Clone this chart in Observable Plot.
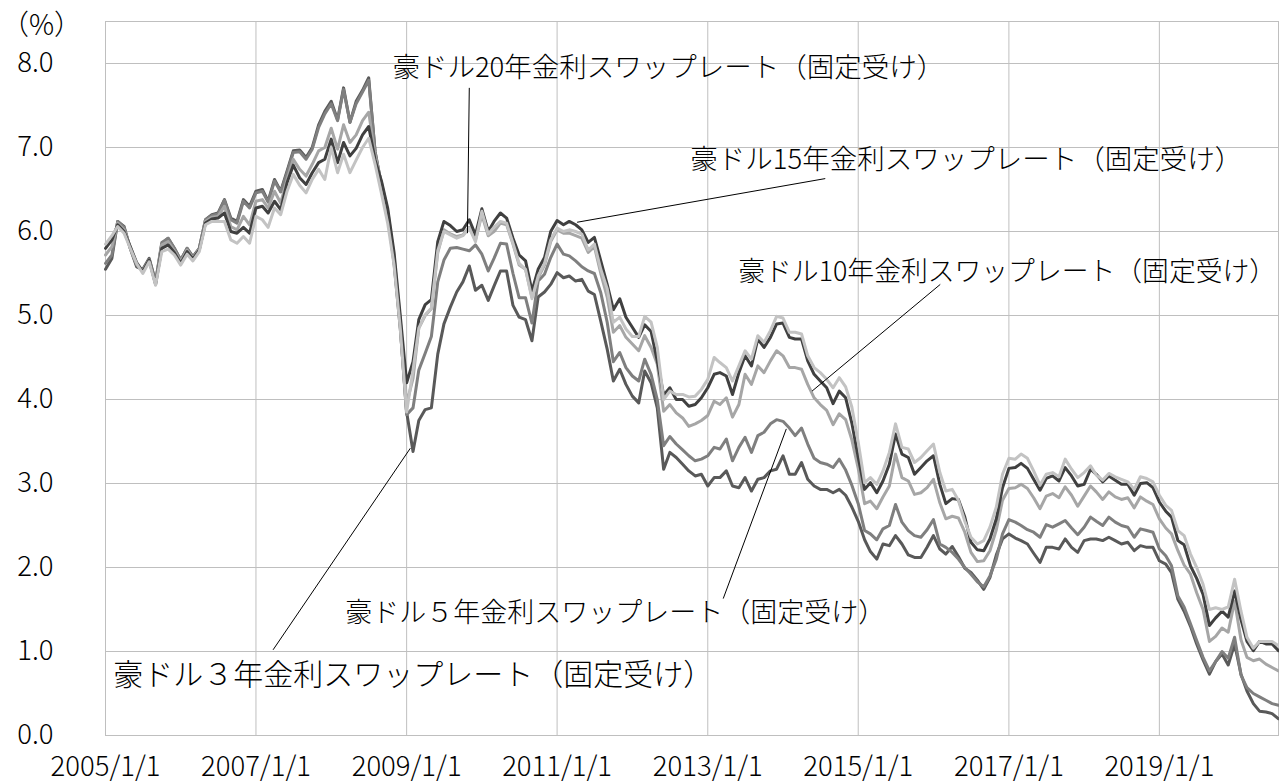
<!DOCTYPE html>
<html><head><meta charset="utf-8">
<script src="https://cdn.jsdelivr.net/npm/d3@7"></script>
<script src="https://cdn.jsdelivr.net/npm/@observablehq/plot@0.6"></script>
<style>body{margin:0;background:#fff;} #chart svg{display:block;}</style>
</head><body><div id="chart"></div>
<script>
// monthly, 2005/01 .. 2020/08
const firstMonth = "2005-01-01";
const lastMonth = "2020-08-01";
const seriesNames = ["3Y", "5Y", "10Y", "15Y", "20Y"];
const seriesColors = ["#595959", "#7f7f7f", "#a6a6a6", "#404040", "#c3c3c3"];

const swap3y = [
5.55,5.68,6.12,6.06,5.80,5.58,5.55,5.68,5.40,5.85,
5.92,5.80,5.66,5.80,5.70,5.80,6.14,6.20,6.22,6.38,
6.16,6.12,6.38,6.30,6.48,6.50,6.36,6.62,6.48,6.72,
6.96,6.97,6.88,7.00,7.27,7.43,7.55,7.33,7.71,7.30,
7.55,7.68,7.83,6.95,6.55,6.20,5.62,4.85,3.85,3.38,
3.75,3.88,3.90,4.54,4.90,5.10,5.28,5.40,5.59,5.30,
5.36,5.18,5.35,5.53,5.53,5.12,4.98,4.95,4.70,5.22,
5.28,5.37,5.51,5.45,5.47,5.41,5.43,5.29,5.25,4.93,
4.60,4.22,4.36,4.18,4.04,3.96,4.34,4.20,3.90,3.17,
3.37,3.31,3.23,3.15,3.09,3.11,2.97,3.07,3.07,3.15,
2.97,2.95,3.07,2.91,3.05,3.07,3.15,3.17,3.33,3.11,
3.11,3.25,3.05,2.97,2.93,2.93,2.89,2.93,2.86,2.72,
2.55,2.33,2.19,2.10,2.28,2.26,2.38,2.28,2.15,2.12,
2.12,2.24,2.38,2.22,2.16,2.25,2.13,1.99,1.94,1.85,
1.74,1.88,2.15,2.34,2.40,2.35,2.32,2.28,2.17,2.06,
2.24,2.24,2.22,2.34,2.24,2.18,2.32,2.34,2.34,2.32,
2.36,2.32,2.28,2.30,2.20,2.26,2.24,2.24,2.08,2.04,
1.94,1.62,1.48,1.30,1.09,0.90,0.73,0.88,0.97,0.84,
1.09,0.73,0.53,0.38,0.29,0.28,0.26,0.20];

const swap5y = [
5.62,5.72,6.12,6.05,5.80,5.60,5.54,5.67,5.40,5.87,
5.92,5.80,5.66,5.80,5.69,5.80,6.14,6.19,6.21,6.37,
6.14,6.10,6.36,6.28,6.46,6.48,6.35,6.60,6.47,6.70,
6.94,6.95,6.86,6.98,7.24,7.40,7.52,7.32,7.69,7.30,
7.52,7.66,7.80,6.95,6.55,6.22,5.65,4.88,3.82,3.90,
4.35,4.55,4.75,5.40,5.66,5.80,5.81,5.79,5.77,5.84,
5.73,5.53,5.68,5.86,5.85,5.50,5.21,5.21,4.91,5.41,
5.49,5.69,5.85,5.73,5.71,5.65,5.58,5.53,5.50,5.27,
4.92,4.45,4.56,4.38,4.28,4.22,4.48,4.30,4.00,3.45,
3.56,3.47,3.40,3.33,3.27,3.29,3.33,3.43,3.41,3.53,
3.27,3.43,3.55,3.37,3.57,3.61,3.71,3.76,3.74,3.66,
3.57,3.66,3.47,3.30,3.25,3.23,3.19,3.29,3.16,2.98,
2.76,2.44,2.40,2.33,2.46,2.50,2.75,2.54,2.44,2.38,
2.36,2.45,2.57,2.28,2.24,2.18,2.10,2.00,1.92,1.83,
1.77,1.90,2.10,2.40,2.57,2.54,2.50,2.45,2.42,2.36,
2.51,2.48,2.52,2.56,2.47,2.39,2.48,2.60,2.55,2.50,
2.60,2.54,2.50,2.48,2.36,2.46,2.44,2.42,2.22,2.14,
2.02,1.66,1.53,1.33,1.13,0.93,0.77,0.88,1.00,0.92,
1.17,0.72,0.57,0.50,0.46,0.42,0.38,0.36];

const swap10y = [
5.72,5.82,6.10,6.02,5.82,5.62,5.53,5.66,5.38,5.84,
5.88,5.77,5.64,5.78,5.68,5.79,6.12,6.17,6.18,6.30,
6.06,6.02,6.18,6.08,6.36,6.38,6.28,6.48,6.34,6.62,
6.86,6.74,6.66,6.80,6.96,7.00,7.23,6.98,7.27,7.06,
7.15,7.32,7.42,6.90,6.58,6.25,5.70,4.95,3.95,4.25,
4.85,5.00,5.08,5.75,6.02,5.97,5.94,5.96,6.05,5.90,
6.20,5.95,6.00,6.10,6.08,5.85,5.60,5.55,5.22,5.45,
5.60,5.88,6.02,5.98,5.98,5.95,5.92,5.75,5.82,5.50,
5.22,4.80,4.88,4.74,4.66,4.58,4.76,4.62,4.42,3.86,
3.94,3.84,3.78,3.68,3.71,3.75,3.81,3.98,3.94,4.02,
3.79,3.94,4.30,4.18,4.40,4.32,4.46,4.58,4.52,4.38,
4.38,4.36,4.18,4.02,3.94,3.87,3.70,3.83,3.76,3.52,
3.18,2.76,2.79,2.70,2.84,2.97,3.35,3.07,3.03,2.87,
2.89,2.95,3.05,2.77,2.58,2.61,2.59,2.42,2.18,2.07,
2.08,2.20,2.45,2.80,2.94,2.95,2.99,2.94,2.83,2.70,
2.85,2.88,2.83,2.96,2.86,2.73,2.85,2.97,2.90,2.81,
2.90,2.84,2.81,2.83,2.71,2.84,2.79,2.75,2.58,2.47,
2.40,2.20,2.03,1.92,1.70,1.50,1.12,1.18,1.28,1.23,
1.60,1.14,0.93,0.89,0.91,0.85,0.81,0.77];

const swap15y = [
5.80,5.90,6.08,6.00,5.82,5.63,5.52,5.66,5.37,5.80,
5.84,5.75,5.62,5.76,5.67,5.78,6.10,6.15,6.16,6.22,
6.00,5.98,6.05,5.98,6.28,6.30,6.22,6.36,6.26,6.58,
6.79,6.64,6.56,6.70,6.82,6.86,7.10,6.82,7.06,6.90,
6.99,7.15,7.25,6.85,6.60,6.28,5.75,5.00,4.20,4.45,
4.95,5.13,5.19,5.88,6.12,6.07,6.00,6.02,6.14,5.96,
6.27,6.00,6.12,6.22,6.16,5.92,5.72,5.65,5.29,5.55,
5.69,6.00,6.13,6.08,6.12,6.08,6.02,5.87,5.93,5.65,
5.37,5.07,5.20,4.98,4.86,4.74,4.89,4.81,4.46,4.05,
4.14,4.00,4.00,3.92,3.94,4.02,4.14,4.30,4.32,4.28,
4.06,4.32,4.52,4.40,4.72,4.62,4.74,4.90,4.91,4.74,
4.72,4.72,4.46,4.30,4.22,4.14,3.95,4.10,4.02,3.72,
3.31,2.93,3.01,2.89,3.03,3.23,3.59,3.35,3.31,3.11,
3.19,3.27,3.33,2.99,2.76,2.82,2.81,2.60,2.30,2.21,
2.20,2.34,2.58,2.95,3.18,3.19,3.24,3.18,3.05,2.92,
3.06,3.09,3.03,3.19,3.09,2.97,2.99,3.17,3.11,3.02,
3.09,3.04,2.99,2.99,2.86,3.00,3.01,2.95,2.78,2.67,
2.60,2.32,2.27,2.02,1.87,1.68,1.31,1.40,1.48,1.41,
1.72,1.38,1.12,1.01,1.12,1.09,1.09,1.01];

const swap20y = [
5.85,5.95,6.06,5.98,5.80,5.62,5.50,5.64,5.36,5.76,
5.79,5.72,5.60,5.73,5.65,5.76,6.08,6.12,6.12,6.12,
5.90,5.86,5.94,5.86,6.18,6.14,6.05,6.28,6.20,6.48,
6.68,6.55,6.46,6.62,6.74,6.62,7.00,6.70,6.92,6.70,
6.85,7.00,7.11,6.80,6.45,6.10,5.60,4.85,3.85,4.35,
4.85,5.01,5.09,5.77,6.00,5.96,5.92,5.95,6.04,5.88,
6.24,5.97,6.05,6.12,6.10,5.86,5.62,5.55,5.20,5.47,
5.62,5.90,6.04,6.00,6.02,6.00,5.97,5.78,5.85,5.55,
5.32,4.92,4.98,4.84,4.75,4.75,4.99,4.92,4.62,4.00,
4.10,4.06,4.06,4.03,4.04,4.12,4.24,4.50,4.44,4.38,
4.22,4.40,4.58,4.48,4.76,4.68,4.82,4.99,4.97,4.80,
4.80,4.78,4.52,4.38,4.32,4.24,4.14,4.26,4.15,3.91,
3.49,3.01,3.07,2.99,3.15,3.37,3.71,3.43,3.41,3.25,
3.31,3.39,3.47,3.13,2.91,2.93,2.80,2.55,2.36,2.28,
2.32,2.48,2.72,3.11,3.30,3.29,3.35,3.30,3.15,2.98,
3.11,3.13,3.08,3.29,3.17,3.07,3.13,3.21,3.10,3.04,
3.12,3.08,3.05,3.02,2.93,3.08,3.06,3.02,2.86,2.74,
2.68,2.44,2.38,2.16,2.00,1.80,1.50,1.52,1.50,1.53,
1.86,1.48,1.17,1.04,1.12,1.12,1.12,1.07];

const xTicks = ["2005-01-01","2007-01-01","2009-01-01","2011-01-01","2013-01-01","2015-01-01","2017-01-01","2019-01-01"];
const yTicks = [0,1,2,3,4,5,6,7,8];

const labelTexts = [
  "豪ドル20年金利スワップレート（固定受け）",
  "豪ドル15年金利スワップレート（固定受け）",
  "豪ドル10年金利スワップレート（固定受け）",
  "豪ドル５年金利スワップレート（固定受け）",
  "豪ドル３年金利スワップレート（固定受け）"
];
const labelDates = ["2008-10-24","2012-10-08","2013-05-29","2008-03-09","2005-02-08"];
const labelValues = [7.95, 6.85, 5.51, 1.46, 0.71];
const labelSizes = [27.5, 27.5, 26.8, 27, 30];
// leader lines: label end -> series point
const leaderFromDates = ["2009-11-01","2014-07-25","2016-02-03","2013-03-17","2007-03-25"];
const leaderFromValues = [7.71, 6.63, 5.37, 1.63, 1.02];
const leaderToDates = ["2009-10-23","2011-04-08","2014-05-22","2014-01-17","2009-01-19"];
const leaderToValues = [5.98, 6.11, 4.10, 3.65, 3.42];

// ---- build tables ----
const parse = s => new Date(s + "T00:00:00Z");
const months = d3.utcMonth.range(parse(firstMonth), d3.utcMonth.offset(parse(lastMonth), 1));
const allSeries = [swap3y, swap5y, swap10y, swap15y, swap20y];
const rows = [];
allSeries.forEach((vals, si) => vals.forEach((v, i) => rows.push({date: months[i], value: v, series: seriesNames[si]})));
const labels = labelTexts.map((t, i) => ({text: t, date: parse(labelDates[i]), value: labelValues[i], size: labelSizes[i]}));
const leaders = leaderFromDates.map((d, i) => ({x1: parse(d), y1: leaderFromValues[i], x2: parse(leaderToDates[i]), y2: leaderToValues[i]}));

const FONT = "'Noto Sans CJK JP', 'Noto Sans', sans-serif";

const chart = Plot.plot({
  width: 1279,
  height: 784,
  marginLeft: 105,
  marginRight: 1,
  marginTop: 21,
  marginBottom: 49,
  style: {fontFamily: FONT, background: "#fff", color: "#000"},
  x: {type: "utc", domain: [parse(firstMonth), parse(lastMonth)]},
  y: {domain: [0, 8.5]},
  color: {domain: seriesNames, range: seriesColors},
  marks: [
    Plot.gridX(xTicks.map(parse), {stroke: "#bfbfbf", strokeOpacity: 1, strokeWidth: 1}),
    Plot.gridY(yTicks, {stroke: "#bfbfbf", strokeOpacity: 1, strokeWidth: 1}),
    Plot.frame({stroke: "#bfbfbf", strokeWidth: 1}),
    Plot.axisX(xTicks.map(parse), {tickSize: 0, tickPadding: 21, fontSize: 27.5, fontWeight: 300, fill: "#000",
      tickFormat: d => `${d.getUTCFullYear()}/1/1`, label: null}),
    Plot.axisY(yTicks, {tickSize: 0, tickPadding: 52, fontSize: 27.5, fontWeight: 300, fill: "#000",
      tickFormat: d3.format(".1f"), label: null}),
    Plot.lineY(rows, {x: "date", y: "value", z: "series", stroke: "series",
      strokeWidth: 3, strokeLinejoin: "round", curve: "linear"}),
    Plot.link(leaders, {x1: "x1", y1: "y1", x2: "x2", y2: "y2", stroke: "#000", strokeWidth: 1}),
    Plot.text(labels, {x: "date", y: "value", text: "text", textAnchor: "start",
      fontSize: d => d.size, fontWeight: 300, fill: "#000", ariaLabel: "annotation", lineAnchor: "middle"})
  ]
});

document.getElementById("chart").appendChild(chart);

// white boxes behind the annotation labels
const svg = d3.select(chart);
svg.selectAll('g[aria-label="annotation"] text').each(function () {
  const b = this.getBBox();
  const parent = this.parentNode;
  const rect = document.createElementNS("http://www.w3.org/2000/svg", "rect");
  rect.setAttribute("x", b.x - 6);
  rect.setAttribute("y", b.y - 2);
  rect.setAttribute("width", b.width + 12);
  rect.setAttribute("height", b.height + 4);
  rect.setAttribute("fill", "#fff");
  const tr = this.getAttribute("transform");
  if (tr) rect.setAttribute("transform", tr);
  parent.insertBefore(rect, this);
});

// unit label
svg.append("text")
  .attr("x", 1)
  .attr("y", 35)
  .attr("text-anchor", "start")
  .attr("font-size", 28)
  .attr("font-weight", 300)
  .attr("font-family", FONT)
  .attr("fill", "#000")
  .text("（%）");
</script>
</body></html>
